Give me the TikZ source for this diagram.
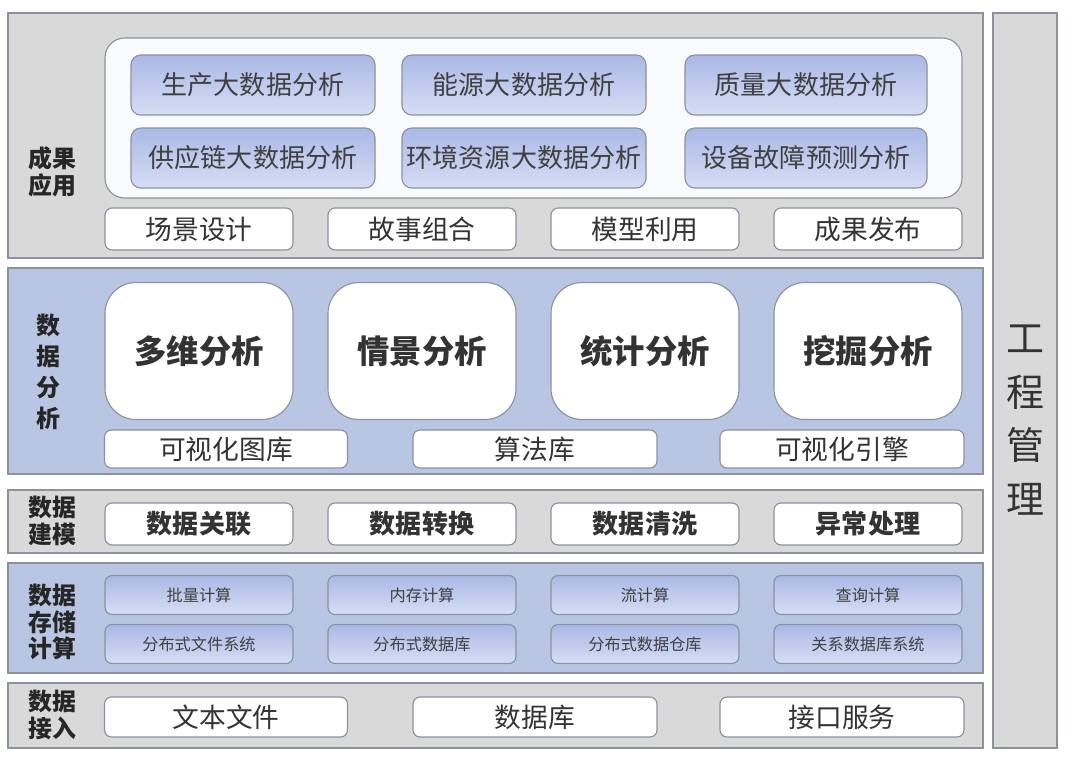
\documentclass[tikz,border=0pt]{standalone}
\usepackage{fontspec}
\setmainfont{Noto Sans CJK SC}
\usetikzlibrary{positioning}
\definecolor{layergray}{RGB}{217,217,217}
\definecolor{layerblue}{RGB}{184,198,228}
\definecolor{edgegray}{RGB}{140,145,160}
\definecolor{tilebluea}{RGB}{170,184,230}
\definecolor{tileblueb}{RGB}{214,222,244}
\tikzset{
  layer/.style={draw=edgegray, line width=1pt},
  whitebox/.style={draw=edgegray, fill=white, rounded corners=5pt, line width=.8pt, text=black!80},
  bluebox/.style={draw=edgegray, top color=tilebluea, bottom color=tileblueb, rounded corners=7pt, line width=.8pt, text=black!75},
  sidelabel/.style={font=\fontsize{17}{19}\selectfont\bfseries, align=center, text=black!85}
}
\begin{document}
\begin{tikzpicture}[x=0.025cm, y=-0.025cm]
  \useasboundingbox (0,0) rectangle (1070,764);
  % layers
  \draw[layer, fill=layergray] (8,13) rectangle (983,258);
  \draw[layer, fill=layerblue] (8,268) rectangle (983,474);
  \draw[layer, fill=layergray] (8,490) rectangle (983,553);
  \draw[layer, fill=layerblue] (8,563) rectangle (983,673);
  \draw[layer, fill=layergray] (8,683) rectangle (983,748);
  \draw[layer, fill=layergray] (993,13) rectangle (1057,748);
  \node (gc) at (1025,420) [font=\fontsize{27}{38}\selectfont, align=center, text=black!80] {工\\程\\管\\理};
  % results
  \node (l1) at (52,172) [sidelabel] {成果\\应用};
  \draw[draw=edgegray, fill=white!92!layerblue, rounded corners=14pt, line width=.8pt] (105,38) rectangle (962,198);
  \node (p1) at (253,85) [bluebox, minimum width=244*0.025cm, minimum height=60*0.025cm, font=\fontsize{18.5}{20}\selectfont] {生产大数据分析};
  \node (p2) at (524,85) [bluebox, minimum width=244*0.025cm, minimum height=60*0.025cm, font=\fontsize{18.5}{20}\selectfont] {能源大数据分析};
  \node (p3) at (806,85) [bluebox, minimum width=242*0.025cm, minimum height=60*0.025cm, font=\fontsize{18.5}{20}\selectfont] {质量大数据分析};
  \node (p4) at (253,158) [bluebox, minimum width=244*0.025cm, minimum height=60*0.025cm, font=\fontsize{18.5}{20}\selectfont] {供应链大数据分析};
  \node (p5) at (524,158) [bluebox, minimum width=244*0.025cm, minimum height=60*0.025cm, font=\fontsize{18.5}{20}\selectfont] {环境资源大数据分析};
  \node (p6) at (806,158) [bluebox, minimum width=242*0.025cm, minimum height=60*0.025cm, font=\fontsize{18.5}{20}\selectfont] {设备故障预测分析};
  \node (s1) at (199,229) [whitebox, minimum width=188*0.025cm, minimum height=42*0.025cm, font=\fontsize{19}{20}\selectfont] {场景设计};
  \node (s2) at (422,229) [whitebox, minimum width=188*0.025cm, minimum height=42*0.025cm, font=\fontsize{19}{20}\selectfont] {故事组合};
  \node (s3) at (645,229) [whitebox, minimum width=188*0.025cm, minimum height=42*0.025cm, font=\fontsize{19}{20}\selectfont] {模型利用};
  \node (s4) at (868,229) [whitebox, minimum width=188*0.025cm, minimum height=42*0.025cm, font=\fontsize{19}{20}\selectfont] {成果发布};
  % analysis
  \node (l2) at (48,372) [sidelabel, font=\fontsize{17}{22}\selectfont\bfseries] {数\\据\\分\\析};
  \node (a1) at (199,351) [whitebox, rounded corners=22pt, minimum width=188*0.025cm, minimum height=137*0.025cm, font=\fontsize{23}{24}\selectfont\bfseries] {多维分析};
  \node (a2) at (422,351) [whitebox, rounded corners=22pt, minimum width=188*0.025cm, minimum height=137*0.025cm, font=\fontsize{23}{24}\selectfont\bfseries] {情景分析};
  \node (a3) at (645,351) [whitebox, rounded corners=22pt, minimum width=188*0.025cm, minimum height=137*0.025cm, font=\fontsize{23}{24}\selectfont\bfseries] {统计分析};
  \node (a4) at (868,351) [whitebox, rounded corners=22pt, minimum width=188*0.025cm, minimum height=137*0.025cm, font=\fontsize{23}{24}\selectfont\bfseries] {挖掘分析};
  \node (v1) at (226,449) [whitebox, minimum width=243*0.025cm, minimum height=38*0.025cm, font=\fontsize{19}{20}\selectfont] {可视化图库};
  \node (v2) at (535,449) [whitebox, minimum width=244*0.025cm, minimum height=38*0.025cm, font=\fontsize{19}{20}\selectfont] {算法库};
  \node (v3) at (842,449) [whitebox, minimum width=244*0.025cm, minimum height=38*0.025cm, font=\fontsize{19}{20}\selectfont] {可视化引擎};
  % modelling
  \node (l3) at (52,521) [sidelabel] {数据\\建模};
  \node (m1) at (199,524) [whitebox, minimum width=188*0.025cm, minimum height=42*0.025cm, font=\fontsize{18.5}{20}\selectfont\bfseries] {数据关联};
  \node (m2) at (422,524) [whitebox, minimum width=188*0.025cm, minimum height=42*0.025cm, font=\fontsize{18.5}{20}\selectfont\bfseries] {数据转换};
  \node (m3) at (645,524) [whitebox, minimum width=188*0.025cm, minimum height=42*0.025cm, font=\fontsize{18.5}{20}\selectfont\bfseries] {数据清洗};
  \node (m4) at (868,524) [whitebox, minimum width=188*0.025cm, minimum height=42*0.025cm, font=\fontsize{18.5}{20}\selectfont\bfseries] {异常处理};
  % storage
  \node (l4) at (52,622) [sidelabel] {数据\\存储\\计算};
  \node (c1) at (199,595) [bluebox, rounded corners=5pt, minimum width=188*0.025cm, minimum height=39*0.025cm, font=\fontsize{11.5}{12}\selectfont] {批量计算};
  \node (c2) at (422,595) [bluebox, rounded corners=5pt, minimum width=188*0.025cm, minimum height=39*0.025cm, font=\fontsize{11.5}{12}\selectfont] {内存计算};
  \node (c3) at (645,595) [bluebox, rounded corners=5pt, minimum width=188*0.025cm, minimum height=39*0.025cm, font=\fontsize{11.5}{12}\selectfont] {流计算};
  \node (c4) at (868,595) [bluebox, rounded corners=5pt, minimum width=188*0.025cm, minimum height=39*0.025cm, font=\fontsize{11.5}{12}\selectfont] {查询计算};
  \node (d1) at (199,644) [bluebox, rounded corners=5pt, minimum width=188*0.025cm, minimum height=39*0.025cm, font=\fontsize{11.5}{12}\selectfont] {分布式文件系统};
  \node (d2) at (422,644) [bluebox, rounded corners=5pt, minimum width=188*0.025cm, minimum height=39*0.025cm, font=\fontsize{11.5}{12}\selectfont] {分布式数据库};
  \node (d3) at (645,644) [bluebox, rounded corners=5pt, minimum width=188*0.025cm, minimum height=39*0.025cm, font=\fontsize{11.5}{12}\selectfont] {分布式数据仓库};
  \node (d4) at (868,644) [bluebox, rounded corners=5pt, minimum width=188*0.025cm, minimum height=39*0.025cm, font=\fontsize{11.5}{12}\selectfont] {关系数据库系统};
  % ingest
  \node (l5) at (52,715) [sidelabel] {数据\\接入};
  \node (i1) at (226,717) [whitebox, minimum width=243*0.025cm, minimum height=40*0.025cm, font=\fontsize{19}{20}\selectfont] {文本文件};
  \node (i2) at (535,717) [whitebox, minimum width=244*0.025cm, minimum height=40*0.025cm, font=\fontsize{19}{20}\selectfont] {数据库};
  \node (i3) at (842,717) [whitebox, minimum width=244*0.025cm, minimum height=40*0.025cm, font=\fontsize{19}{20}\selectfont] {接口服务};
\end{tikzpicture}
\end{document}
